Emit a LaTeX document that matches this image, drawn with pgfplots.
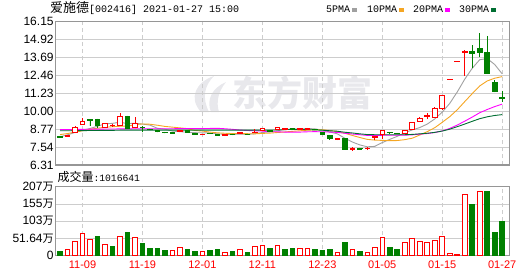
\documentclass[border=0pt]{standalone}
\usepackage{fontspec}
\setmainfont{Liberation Sans}
\newfontfamily\cjk{Noto Sans CJK SC}
\newfontfamily\mono{Liberation Mono}
\usepackage{pgfplots}
\pgfplotsset{compat=1.18}

\definecolor{cred}{RGB}{255,0,0}
\definecolor{cgreen}{RGB}{0,128,0}
\definecolor{ma5}{RGB}{160,160,160}
\definecolor{ma10}{RGB}{245,166,35}
\definecolor{ma20}{RGB}{255,0,255}
\definecolor{ma30}{RGB}{0,110,50}
\definecolor{gridc}{RGB}{205,205,205}
\definecolor{framec}{RGB}{150,150,150}
\definecolor{wm}{RGB}{232,232,236}

\pgfplotsset{
  cup/.style={draw=cred, fill=white, line width=0.9pt, solid},
  cdn/.style={draw=cgreen, fill=cgreen, line width=0.9pt, solid},
  kaxis/.style={
    scale only axis, width=454pt,
    xmin=-0.63, xmax=59.95,
    axis line style={draw=framec, line width=1.2pt},
    major tick length=0pt,
    xtick={3,11,19,27,35,43,51,59},
    xmajorgrids, ymajorgrids,
    x grid style={draw=gridc, dash pattern=on 4pt off 3pt, line width=0.8pt},
    y grid style={draw=gridc, line width=0.8pt},
    yticklabel style={font=\fontsize{12}{12}\selectfont, inner sep=1.5pt},
  },
}
\newcommand\wan{{\cjk\fontsize{11}{11}\selectfont 万}}
% candle: index, open, high, low, close
\newcommand\candle[5]{%
\pgfmathsetmacro\xa{#1-0.31}\pgfmathsetmacro\xb{#1+0.31}%
\ifdim#2pt>#5pt\relax\def\cs{cdn}\else\def\cs{cup}\fi
\edef\tmp{\noexpand\addplot[\cs] coordinates {(#1,#4)(#1,#3)};%
\noexpand\addplot[\cs] coordinates {(\xa,#2)(\xb,#2)(\xb,#5)(\xa,#5)} -- cycle;}%
\tmp}

\begin{document}
\begin{tikzpicture}
\useasboundingbox (0pt,0pt) rectangle (530pt,-276pt);
% watermark
\fill[wm] (201pt,-112pt) .. controls (188pt,-98pt) and (196pt,-82pt) .. (214pt,-76pt)
  .. controls (204pt,-86pt) and (202pt,-98pt) .. (209pt,-112pt) -- cycle;
\fill[wm] (211pt,-112pt) .. controls (206pt,-100pt) and (212pt,-88pt) .. (226pt,-82pt)
  .. controls (218pt,-92pt) and (216pt,-102pt) .. (219pt,-112pt) -- cycle;
\node[text=wm, font=\cjk\bfseries\fontsize{35}{35}\selectfont, inner sep=0] at (302pt,-93pt) {东方财富};

\node[anchor=base west, inner sep=0] at (50pt,-12.7pt) {{\cjk\fontsize{13}{13}\selectfont 爱施德}{\mono\fontsize{10}{10}\selectfont [002416] 2021-01-27 15:00}};
\node[anchor=base west, inner sep=0, font=\mono\fontsize{10}{10}\selectfont] at (326pt,-12.3pt) {5PMA};
\fill[ma5] (352pt,-8pt) rectangle (357pt,-11.5pt);
\node[anchor=base west, inner sep=0, font=\mono\fontsize{10}{10}\selectfont] at (367pt,-12.3pt) {10PMA};
\fill[ma10] (399pt,-8pt) rectangle (404pt,-11.5pt);
\node[anchor=base west, inner sep=0, font=\mono\fontsize{10}{10}\selectfont] at (413pt,-12.3pt) {20PMA};
\fill[ma20] (445pt,-8pt) rectangle (450pt,-11.5pt);
\node[anchor=base west, inner sep=0, font=\mono\fontsize{10}{10}\selectfont] at (459pt,-12.3pt) {30PMA};
\fill[ma30] (491pt,-8pt) rectangle (496pt,-11.5pt);

\node[anchor=base west, inner sep=0] at (57.3pt,-181pt) {{\cjk\fontsize{12}{12}\selectfont 成交量}{\mono\fontsize{9.7}{10}\selectfont :1016641}};

\begin{axis}[kaxis, at={(55.3pt,-21.7pt)}, anchor=north west, height=143.3pt,
  ymin=6.31, ymax=16.15,
  ytick={6.31,7.54,8.77,10.00,11.23,12.46,13.69,14.92,16.15},
  yticklabels={6.31,7.54,8.77,10.00,11.23,12.46,13.69,14.92,16.15},
  xticklabels={},
]
\addplot[ma5, line width=0.9pt] coordinates {(0,8.25)(1,8.38)(2,8.55)(3,8.70)(4,8.82)(5,8.97)(6,9.14)(7,9.17)(8,9.25)(9,9.15)(10,9.18)(11,9.12)(12,9.05)(13,8.83)(14,8.77)(15,8.64)(16,8.60)(17,8.56)(18,8.53)(19,8.52)(20,8.51)(21,8.45)(22,8.42)(23,8.41)(24,8.43)(25,8.41)(26,8.46)(27,8.54)(28,8.59)(29,8.66)(30,8.74)(31,8.78)(32,8.77)(33,8.82)(34,8.79)(35,8.71)(36,8.58)(37,8.45)(38,8.15)(39,7.89)(40,7.69)(41,7.56)(42,7.59)(43,7.85)(44,8.07)(45,8.28)(46,8.53)(47,8.72)(48,8.88)(49,9.12)(50,9.47)(51,9.94)(52,10.54)(53,11.32)(54,12.20)(55,12.95)(56,13.54)(57,13.62)(58,13.21)(59,12.57)};
\addplot[ma10, line width=0.9pt] coordinates {(0,8.40)(1,8.47)(2,8.57)(3,8.66)(4,8.76)(5,8.84)(6,8.90)(7,8.94)(8,8.97)(9,8.98)(10,9.08)(11,9.13)(12,9.11)(13,9.04)(14,8.96)(15,8.91)(16,8.86)(17,8.81)(18,8.68)(19,8.64)(20,8.57)(21,8.52)(22,8.49)(23,8.47)(24,8.47)(25,8.46)(26,8.45)(27,8.48)(28,8.50)(29,8.54)(30,8.58)(31,8.62)(32,8.66)(33,8.70)(34,8.72)(35,8.73)(36,8.68)(37,8.61)(38,8.49)(39,8.34)(40,8.20)(41,8.07)(42,8.02)(43,8.00)(44,7.98)(45,7.99)(46,8.05)(47,8.15)(48,8.37)(49,8.60)(50,8.87)(51,9.24)(52,9.63)(53,10.10)(54,10.66)(55,11.21)(56,11.74)(57,12.08)(58,12.27)(59,12.38)};
\addplot[ma20, line width=0.9pt] coordinates {(0,8.74)(1,8.74)(2,8.75)(3,8.76)(4,8.77)(5,8.77)(6,8.78)(7,8.78)(8,8.79)(9,8.79)(10,8.80)(11,8.80)(12,8.80)(13,8.80)(14,8.80)(15,8.80)(16,8.81)(17,8.81)(18,8.81)(19,8.81)(20,8.82)(21,8.83)(22,8.80)(23,8.76)(24,8.71)(25,8.68)(26,8.66)(27,8.64)(28,8.59)(29,8.59)(30,8.57)(31,8.57)(32,8.57)(33,8.59)(34,8.60)(35,8.59)(36,8.57)(37,8.55)(38,8.49)(39,8.44)(40,8.39)(41,8.34)(42,8.34)(43,8.35)(44,8.35)(45,8.36)(46,8.36)(47,8.38)(48,8.43)(49,8.47)(50,8.54)(51,8.65)(52,8.82)(53,9.05)(54,9.32)(55,9.60)(56,9.90)(57,10.12)(58,10.32)(59,10.49)};
\addplot[ma30, line width=0.9pt] coordinates {(0,8.66)(1,8.66)(2,8.67)(3,8.67)(4,8.68)(5,8.68)(6,8.69)(7,8.69)(8,8.70)(9,8.70)(10,8.70)(11,8.70)(12,8.70)(13,8.70)(14,8.70)(15,8.70)(16,8.70)(17,8.70)(18,8.70)(19,8.70)(20,8.70)(21,8.70)(22,8.70)(23,8.70)(24,8.70)(25,8.70)(26,8.71)(27,8.71)(28,8.71)(29,8.72)(30,8.74)(31,8.76)(32,8.75)(33,8.74)(34,8.72)(35,8.70)(36,8.66)(37,8.63)(38,8.56)(39,8.51)(40,8.45)(41,8.40)(42,8.39)(43,8.39)(44,8.39)(45,8.39)(46,8.39)(47,8.41)(48,8.45)(49,8.49)(50,8.55)(51,8.64)(52,8.77)(53,8.94)(54,9.12)(55,9.31)(56,9.49)(57,9.62)(58,9.71)(59,9.77)};
\candle{0}{8.30}{8.33}{8.18}{8.22}
\candle{1}{8.28}{8.38}{8.25}{8.34}
\candle{2}{8.55}{8.99}{8.50}{8.87}
\candle{3}{9.10}{9.52}{9.08}{9.28}
\candle{4}{9.42}{9.43}{9.00}{9.38}
\candle{5}{9.45}{9.50}{8.85}{9.00}
\candle{6}{8.92}{9.18}{8.90}{9.15}
\candle{7}{9.03}{9.15}{8.95}{9.06}
\candle{8}{9.00}{9.88}{8.98}{9.67}
\candle{9}{9.67}{9.70}{8.82}{8.85}
\candle{10}{8.88}{9.60}{8.83}{9.15}
\candle{11}{8.90}{9.02}{8.55}{8.86}
\candle{12}{8.76}{8.80}{8.68}{8.72}
\candle{13}{8.65}{8.70}{8.55}{8.58}
\candle{14}{8.56}{8.60}{8.49}{8.52}
\candle{15}{8.55}{8.58}{8.48}{8.51}
\candle{16}{8.60}{8.68}{8.57}{8.65}
\candle{17}{8.69}{8.71}{8.53}{8.55}
\candle{18}{8.45}{8.48}{8.40}{8.43}
\candle{19}{8.41}{8.46}{8.39}{8.44}
\candle{20}{8.50}{8.52}{8.44}{8.47}
\candle{21}{8.38}{8.42}{8.33}{8.36}
\candle{22}{8.35}{8.40}{8.33}{8.38}
\candle{23}{8.44}{8.46}{8.36}{8.41}
\candle{24}{8.47}{8.55}{8.45}{8.52}
\candle{25}{8.43}{8.45}{8.38}{8.40}
\candle{26}{8.52}{8.78}{8.50}{8.57}
\candle{27}{8.66}{8.85}{8.64}{8.82}
\candle{28}{8.70}{8.72}{8.58}{8.62}
\candle{29}{8.74}{8.92}{8.72}{8.88}
\candle{30}{8.76}{8.83}{8.74}{8.79}
\candle{31}{8.80}{8.85}{8.72}{8.78}
\candle{32}{8.77}{8.83}{8.74}{8.80}
\candle{33}{8.78}{8.88}{8.76}{8.85}
\candle{34}{8.76}{8.79}{8.70}{8.72}
\candle{35}{8.55}{8.57}{8.40}{8.42}
\candle{36}{8.37}{8.38}{8.06}{8.10}
\candle{37}{8.04}{8.19}{8.02}{8.14}
\candle{38}{8.10}{8.12}{7.36}{7.38}
\candle{39}{7.40}{7.55}{7.28}{7.42}
\candle{40}{7.44}{7.50}{7.38}{7.42}
\candle{41}{7.42}{7.56}{7.34}{7.45}
\candle{42}{8.22}{8.30}{8.05}{8.28}
\candle{43}{8.43}{8.70}{8.12}{8.68}
\candle{44}{8.56}{8.58}{8.45}{8.52}
\candle{45}{8.50}{8.52}{8.43}{8.47}
\candle{46}{8.50}{8.73}{8.47}{8.71}
\candle{47}{8.76}{9.22}{8.74}{9.20}
\candle{48}{9.32}{9.60}{9.28}{9.52}
\candle{49}{9.66}{9.85}{9.50}{9.70}
\candle{50}{9.60}{10.32}{9.55}{10.20}
\candle{51}{10.18}{11.10}{10.08}{11.09}
\candle{52}{12.19}{12.20}{12.19}{12.20}
\candle{53}{13.42}{13.43}{13.42}{13.43}
\candle{54}{14.06}{14.22}{12.44}{14.09}
\candle{55}{14.14}{14.55}{12.95}{13.96}
\candle{56}{14.28}{15.35}{13.70}{14.05}
\candle{57}{14.05}{15.17}{12.60}{12.60}
\candle{58}{11.99}{12.15}{11.32}{11.34}
\candle{59}{10.92}{11.41}{10.66}{10.89}
\end{axis}

\begin{axis}[kaxis, at={(55.3pt,-186.7pt)}, anchor=north west, height=69pt,
  ymin=0, ymax=206.56,
  ytick={0,51.64,103.28,154.92,206.56},
  yticklabels={0,51.64\wan,103\wan,155\wan,207\wan},
  xticklabels={11-09,11-19,12-01,12-11,12-23,01-05,01-15,01-27},
  xticklabel style={text=cred, font=\fontsize{11}{11}\selectfont, yshift=-1.5pt},
]
\addplot[ybar, bar width=0.62, bar shift=0pt, draw=cred, fill=white, line width=0.9pt] coordinates {(1,19)(2,43)(3,66)(4,49)(6,34)(8,58)(10,55)(15,16)(16,25)(19,13)(22,10)(24,19)(26,28)(27,31)(29,31)(32,22)(33,22)(37,10)(39,19)(41,10)(42,25)(43,55)(46,40)(47,52)(48,43)(49,40)(50,46)(51,58)(52,7)(53,4)(54,183)(56,192)};
\addplot[ybar, bar width=0.62, bar shift=0pt, draw=cgreen, fill=cgreen, line width=0.9pt] coordinates {(0,13)(5,58)(7,28)(9,69)(11,37)(12,22)(13,22)(14,16)(17,19)(18,13)(20,16)(21,19)(23,13)(25,10)(28,22)(30,19)(31,22)(34,19)(35,16)(36,19)(38,40)(40,13)(44,25)(45,19)(55,153)(57,192)(58,69)(59,101.66)};
\end{axis}
\end{tikzpicture}
\end{document}
